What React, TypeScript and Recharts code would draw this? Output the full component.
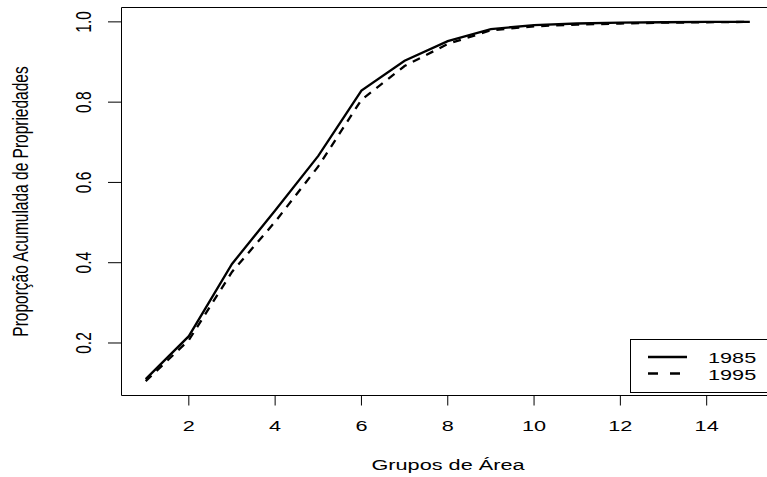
import React, { ReactElement } from "react";
import {
  Label,
  Legend,
  Line,
  LineChart,
  ReferenceArea,
  XAxis,
  YAxis,
} from "recharts";

// grupos de área (eixo x)
const grupos = [1, 2, 3, 4, 5, 6, 7, 8, 9, 10, 11, 12, 13, 14, 15];

// proporção acumulada
const prop1985 = [
  0.11, 0.217, 0.397, 0.53, 0.666, 0.829, 0.903, 0.952, 0.982, 0.992, 0.996,
  0.998, 0.999, 1.0, 1.0,
];
const prop1995 = [
  0.105, 0.207, 0.377, 0.502, 0.64, 0.806, 0.89, 0.945, 0.979, 0.989, 0.993,
  0.996, 0.998, 0.999, 1.0,
];

const seriesNames = ["1985", "1995"];
const xTicks = [2, 4, 6, 8, 10, 12, 14];
const yTicks = [0.2, 0.4, 0.6, 0.8, 1.0];

const xTitle = "Grupos de Área";
const yTitle = "Proporção Acumulada de Propriedades";

const data = grupos.map((g, i) => ({
  grupo: g,
  s1985: prop1985[i],
  s1995: prop1995[i],
}));

// R-like axis limits (4% padding)
const xDomain: [number, number] = [0.44, 15.56];
const yDomain: [number, number] = [0.0692, 1.0358];

const FONT = '"Liberation Sans", Arial, Helvetica, sans-serif';
const FS = 15.5;
const SX = 1.4; // the picture is stretched horizontally

function XTick({ x, y, payload }: any) {
  return (
    <text
      transform={`translate(${x},${y + 23}) scale(${SX},1)`}
      textAnchor="middle"
      fontFamily={FONT}
      fontSize={FS}
      fill="#000"
    >
      {payload.value}
    </text>
  );
}

function YTick({ x, y, payload }: any) {
  return (
    <text
      transform={`translate(${x - 15},${y}) scale(${SX},1) rotate(-90)`}
      textAnchor="middle"
      fontFamily={FONT}
      fontSize={FS}
      fill="#000"
    >
      {Number(payload.value).toFixed(1)}
    </text>
  );
}

function renderLegend(props: any) {
  const payload = props.payload || [];
  return (
    <svg width={170} height={54} style={{ display: "block" }}>
      <rect x={0.5} y={0.5} width={200} height={53} fill="#fff" stroke="#000" />
      {payload.map((entry: any, i: number) => {
        const cy = 18 + i * 16.5;
        return (
          <g key={`leg-${i}`}>
            <line
              x1={18}
              x2={57}
              y1={cy}
              y2={cy}
              stroke="#000"
              strokeWidth={2.3}
              strokeDasharray={i === 1 ? "10 12" : undefined}
            />
            <text
              transform={`translate(78,${cy + 6}) scale(${SX},1)`}
              fontFamily={FONT}
              fontSize={FS}
              fill="#000"
            >
              {entry.value}
            </text>
          </g>
        );
      })}
    </svg>
  );
}

export default function App(): ReactElement {
  return (
    <div
      style={{
        position: "absolute",
        left: 0,
        top: 0,
        width: 767,
        height: 477,
        overflow: "hidden",
        background: "#fff",
      }}
    >
      <LineChart
        width={790}
        height={477}
        data={data}
        margin={{ top: 7.5, right: 16, bottom: 0, left: 0 }}
      >
        <XAxis
          dataKey="grupo"
          type="number"
          domain={xDomain}
          allowDataOverflow
          ticks={xTicks}
          interval={0}
          height={81.5}
          axisLine={false}
          tickSize={10}
          tickLine={{ stroke: "#000" }}
          tick={<XTick />}
        >
          <Label
            content={() => (
              <text
                transform={`translate(448,470) scale(${SX},1)`}
                textAnchor="middle"
                fontFamily={FONT}
                fontSize={FS}
                fill="#000"
              >
                {xTitle}
              </text>
            )}
          />
        </XAxis>
        <YAxis
          type="number"
          domain={yDomain}
          allowDataOverflow
          ticks={yTicks}
          interval={0}
          width={121.5}
          axisLine={false}
          tickSize={13.5}
          tickLine={{ stroke: "#000" }}
          tick={<YTick />}
        >
          <Label
            content={() => (
              <text
                transform={`translate(28,201.5) scale(${SX},1) rotate(-90)`}
                textAnchor="middle"
                fontFamily={FONT}
                fontSize={FS}
                fill="#000"
              >
                {yTitle}
              </text>
            )}
          />
        </YAxis>
        <ReferenceArea
          x1={xDomain[0]}
          x2={xDomain[1]}
          y1={yDomain[0]}
          y2={yDomain[1]}
          fill="none"
          fillOpacity={0}
          stroke="#000"
          strokeWidth={1}
          ifOverflow="visible"
        />
        <Line
          type="linear"
          dataKey="s1985"
          name={seriesNames[0]}
          stroke="#000"
          strokeWidth={2.3}
          dot={false}
          isAnimationActive={false}
        />
        <Line
          type="linear"
          dataKey="s1995"
          name={seriesNames[1]}
          stroke="#000"
          strokeWidth={2.3}
          strokeDasharray="8 7"
          dot={false}
          isAnimationActive={false}
        />
        <Legend
          layout="horizontal"
          verticalAlign="middle"
          align="center"
          content={renderLegend}
          wrapperStyle={{ left: 630, top: 338.5, width: 170, height: 54 }}
        />
      </LineChart>
    </div>
  );
}
